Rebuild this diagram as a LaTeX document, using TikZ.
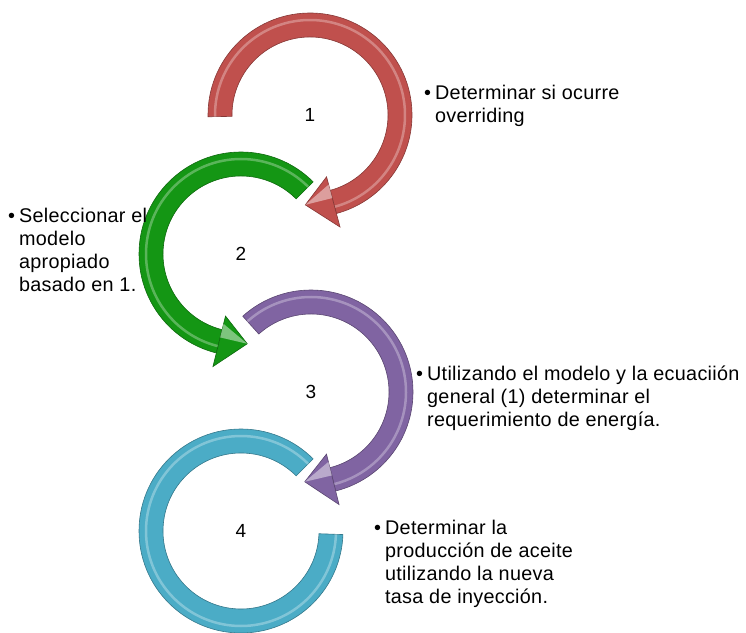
\documentclass[tikz,border=0pt]{standalone}
\usepackage{fontspec}
\setmainfont[LetterSpace=1.5]{Liberation Sans}
\usetikzlibrary{calc}

\definecolor{ringred}{RGB}{192,80,77}
\definecolor{ringgreen}{RGB}{20,150,20}
\definecolor{ringviolet}{RGB}{128,100,162}
\definecolor{ringcyan}{RGB}{75,172,198}

\tikzset{
  itemtxt/.style={anchor=north west, inner sep=0pt, font=\fontsize{19.8}{23}\selectfont},
  numlbl/.style={inner sep=0pt, font=\fontsize{19}{23}\selectfont},
  ringfill/.style={fill=#1, draw=#1!70!black, line width=0.6pt},
  gloss/.style={white, opacity=0.3, line width=2.5pt}
}

% ring shaft: centre, from angle, to angle, colour
\newcommand{\ringshaft}[4]{%
  \path[ringfill=#4] ($(#1)+(#2:102)$) arc[start angle=#2, end angle=#3, radius=102]
    -- ($(#1)+(#3:78)$) arc[start angle=#3, end angle=#2, radius=78] -- cycle;
  \draw[gloss] ($(#1)+(#2:95)$) arc[start angle=#2, end angle=#3, radius=95];}

% ring head: centre, base angle, tip angle, colour
\newcommand{\ringhead}[4]{%
  \path[ringfill=#4] ($(#1)+(#2:64)$) -- ($(#1)+(#3:90)$) -- ($(#1)+(#2:116)$) -- cycle;
  \path[fill=white, opacity=0.45] ($(#1)+(#2:72)$) -- ($(#1)+(#3:90)$) -- ($(#1)+(#2:86)$) -- cycle;}

\begin{document}
\begin{tikzpicture}[x=1pt, y=1pt]
  \useasboundingbox (0,0) rectangle (746,632);

  \coordinate (c1) at (310,517);
  \coordinate (c2) at (241,378);
  \coordinate (c3) at (311,240);
  \coordinate (c4) at (241,101);

  \ringshaft{c1}{181}{-75}{ringred}
  \ringhead{c1}{-75}{-93}{ringred}

  \ringshaft{c2}{45}{256}{ringgreen}
  \ringhead{c2}{256}{274}{ringgreen}

  \ringshaft{c3}{132}{-76}{ringviolet}
  \ringhead{c3}{-76}{-94}{ringviolet}

  \ringshaft{c4}{45}{358}{ringcyan}

  \node[numlbl] (n1) at (c1) {1};
  \node[numlbl] (n2) at (c2) {2};
  \node[numlbl] (n3) at (c3) {3};
  \node[numlbl] (n4) at (c4) {4};

  \node[itemtxt] (t1) at (424,549) {\begin{tabular}{@{}l@{\hspace{4pt}}l@{}}
    \textbullet & Determinar si ocurre\\
                & overriding
  \end{tabular}};
  \node[itemtxt] (t2) at (8,426) {\begin{tabular}{@{}l@{\hspace{4pt}}l@{}}
    \textbullet & Seleccionar el\\
                & modelo\\
                & apropiado\\
                & basado en 1.
  \end{tabular}};
  \node[itemtxt] (t3) at (416,268) {\begin{tabular}{@{}l@{\hspace{4pt}}l@{}}
    \textbullet & Utilizando el modelo y la ecuaciión\\
                & general (1) determinar el\\
                & requerimiento de energía.
  \end{tabular}};
  \node[itemtxt] (t4) at (374,114) {\begin{tabular}{@{}l@{\hspace{4pt}}l@{}}
    \textbullet & Determinar la\\
                & producción de aceite\\
                & utilizando la nueva\\
                & tasa de inyección.
  \end{tabular}};
\end{tikzpicture}
\end{document}
